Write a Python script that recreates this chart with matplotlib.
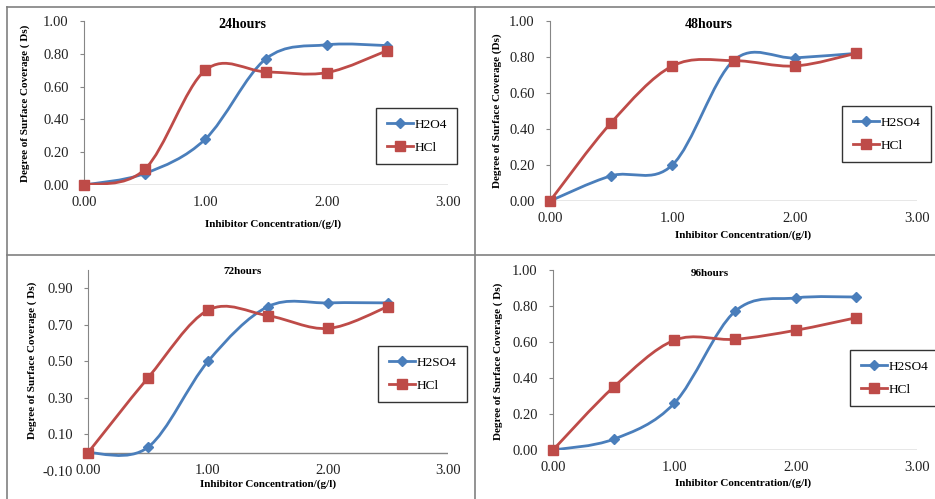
import numpy as np
import matplotlib
matplotlib.use("Agg")
import matplotlib.pyplot as plt
from matplotlib.path import Path
from matplotlib.patches import PathPatch
from matplotlib.lines import Line2D

# concentrations (g/l)
conc = [0.0, 0.5, 1.0, 1.5, 2.0, 2.5]

# degree of surface coverage
h2so4_24 = [0.0, 0.07, 0.28, 0.77, 0.855, 0.85]
hcl_24 = [0.0, 0.095, 0.70, 0.69, 0.685, 0.82]
h2so4_48 = [0.0, 0.14, 0.20, 0.78, 0.795, 0.82]
hcl_48 = [0.0, 0.435, 0.75, 0.78, 0.75, 0.82]
h2so4_72 = [0.0, 0.03, 0.50, 0.80, 0.82, 0.82]
hcl_72 = [0.0, 0.41, 0.78, 0.75, 0.68, 0.80]
h2so4_96 = [0.0, 0.06, 0.26, 0.77, 0.845, 0.85]
hcl_96 = [0.0, 0.35, 0.61, 0.615, 0.665, 0.735]

titles = ["24hours", "48hours", "72hours", "96hours"]
acid_names = [["H2O4", "HCl"], ["H2SO4", "HCl"], ["H2SO4", "HCl"], ["H2SO4", "HCl"]]
ylabels = ["Degree of Surface Coverage ( Ds)", "Degree of Surface Coverage (Ds)",
           "Degree of Surface Coverage ( Ds)", "Degree of Surface Coverage ( Ds)"]

BLUE = "#4a7ebb"
RED = "#be4b48"
AXC = "#868686"
W, H = 935, 499

plt.rcParams["font.family"] = ["Liberation Serif", "DejaVu Serif"]

fig = plt.figure(figsize=(W / 100, H / 100), dpi=100)


def fx(px):
    return px / W


def fy(py):
    return 1 - py / H


def smooth_path(xs, ys):
    # excel-like smoothed line: bezier segments through the points
    pts = np.column_stack([xs, ys])
    n = len(pts)
    verts = [pts[0]]
    codes = [Path.MOVETO]
    for i in range(n - 1):
        p0 = pts[max(i - 1, 0)]
        p1 = pts[i]
        p2 = pts[i + 1]
        p3 = pts[min(i + 2, n - 1)]
        c1 = p1 + (p2 - p0) / 6
        c2 = p2 - (p3 - p1) / 6
        verts += [c1, c2, p2]
        codes += [Path.CURVE4] * 3
    return Path(verts, codes)


# panel layout in pixels: x0, x_end(3.0), y_top(ymax), y_bottom(ymin)
panels = [
    dict(box=(84, 448, 21, 185), ylim=(0, 1.0), yt=np.arange(0, 1.01, 0.2), xpad=8,
         title=(242, 25, 10), leg=(376, 108), xl=(273, 224), yl=(25, 103)),
    dict(box=(550, 917, 21, 201), ylim=(0, 1.0), yt=np.arange(0, 1.01, 0.2), xpad=8,
         title=(709, 25, 10), leg=(842, 106), xl=(743, 235), yl=(497, 111)),
    dict(box=(88, 448, 270, 471), ylim=(-0.1, 1.0), yt=np.arange(-0.1, 0.91, 0.2), xpad=-5,
         title=(242, 272, 8), leg=(378, 346), xl=(268, 484), yl=(32, 360)),
    dict(box=(553, 917, 270, 450), ylim=(0, 1.0), yt=np.arange(0, 1.01, 0.2), xpad=8,
         title=(710, 273, 8), leg=(850, 350), xl=(743, 483), yl=(498, 361)),
]
series = [(h2so4_24, hcl_24), (h2so4_48, hcl_48), (h2so4_72, hcl_72), (h2so4_96, hcl_96)]

for k, p in enumerate(panels):
    x0, x1, yt_, yb = p["box"]
    ax = fig.add_axes([fx(x0), fy(yb), (x1 - x0) / W, (yb - yt_) / H])
    ax.set_xlim(0, 3)
    ax.set_ylim(*p["ylim"])
    ax.patch.set_alpha(0)
    for s in ["top", "right"]:
        ax.spines[s].set_visible(False)
    ax.spines["left"].set_color(AXC)
    ax.spines["left"].set_bounds(0, p["ylim"][1])
    ax.spines["bottom"].set_visible(False)
    ax.axhline(0, color=AXC, lw=1, zorder=1)
    ax.set_xticks([0, 1, 2, 3])
    ax.set_xticklabels(["%.2f" % v for v in [0, 1, 2, 3]])
    ax.set_yticks(p["yt"])
    ax.set_yticklabels(["%.2f" % v for v in p["yt"]])
    ax.tick_params(axis="x", length=0, labelsize=10.5, pad=p["xpad"], colors="#222222")
    ax.tick_params(axis="y", length=3, labelsize=10.5, pad=8, color=AXC, labelcolor="#222222")
    if p["ylim"][0] < 0:
        ax.yaxis.get_major_ticks()[0].tick1line.set_visible(False)

    ys_b, ys_r = series[k]
    for ys, col, mk, ms in [(ys_b, BLUE, "D", 5.5), (ys_r, RED, "s", 7.5)]:
        ax.add_patch(PathPatch(smooth_path(conc, ys), fill=False, edgecolor=col, lw=2.0, zorder=2))
        ax.plot(conc, ys, linestyle="none", marker=mk, color=col, ms=ms, zorder=3, clip_on=False)

    handles = [Line2D([], [], color=BLUE, lw=2.0, marker="D", ms=5.5),
               Line2D([], [], color=RED, lw=2.0, marker="s", ms=7.5)]
    leg = ax.legend(handles, acid_names[k], loc="upper left",
                    bbox_to_anchor=(fx(p["leg"][0]), fy(p["leg"][1])),
                    bbox_transform=fig.transFigure, borderaxespad=0,
                    fontsize=9.5, handlelength=2.0, handletextpad=0.1,
                    labelspacing=0.8, borderpad=0.8,
                    fancybox=False, frameon=True, edgecolor="black")
    leg.get_frame().set_linewidth(1.0)

    tx, ty, ts = p["title"]
    fig.text(fx(tx), fy(ty), titles[k], ha="center", va="center",
             fontsize=ts, fontweight="bold")
    fig.text(fx(p["xl"][0]), fy(p["xl"][1]), "Inhibitor Concentration/(g/l)",
             ha="center", va="center", fontsize=8, fontweight="bold")
    fig.text(fx(p["yl"][0]), fy(p["yl"][1]), ylabels[k], ha="center", va="center",
             rotation=90, fontsize=8, fontweight="bold")

# table borders around the four charts
GRID = "#808080"
for (xa, ya, xb, yb) in [(7, 7, 935, 7), (7, 255, 935, 255), (7, 7, 7, 499),
                         (475, 7, 475, 499)]:
    fig.add_artist(Line2D([fx(xa), fx(xb)], [fy(ya), fy(yb)], color=GRID, lw=1.2,
                          transform=fig.transFigure))

fig.savefig("out.png", dpi=100)
